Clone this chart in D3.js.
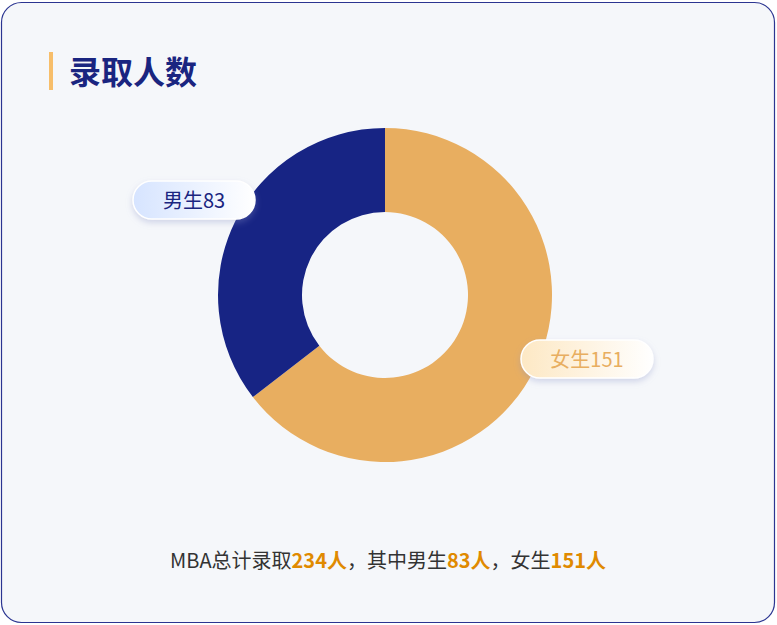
<!DOCTYPE html>
<html><head><meta charset="utf-8">
<script src="https://cdn.jsdelivr.net/npm/d3@7/dist/d3.min.js"></script>
<style>body{margin:0;background:#fff}svg{display:block}</style></head>
<body><svg id="c" width="777" height="625"></svg>
<script>
const categories=["女生","男生"];
const values=[151,83];
const colors=["#e8ae60","#172484"];
const total=234;
const svg=d3.select("#c");
const defs=svg.append("defs");
const f=defs.append("filter").attr("id","sh").attr("x","-30%").attr("y","-50%").attr("width","160%").attr("height","220%");
f.append("feDropShadow").attr("dx",0).attr("dy",3).attr("stdDeviation",3).attr("flood-color","#8a93c8").attr("flood-opacity",0.35);
const g1=defs.append("linearGradient").attr("id","gm");
g1.append("stop").attr("offset","0").attr("stop-color","#d6e4ff");
g1.append("stop").attr("offset","1").attr("stop-color","#ffffff");
const g2=defs.append("linearGradient").attr("id","gf");
g2.append("stop").attr("offset","0").attr("stop-color","#fde8c4");
g2.append("stop").attr("offset","1").attr("stop-color","#ffffff");
svg.append("rect").attr("x",1.5).attr("y",2.5).attr("width",773).attr("height",620).attr("rx",20).attr("fill","#f5f7fa").attr("stroke","#2b3591").attr("stroke-width",1.2);
svg.append("rect").attr("x",49).attr("y",52).attr("width",4).attr("height",38).attr("fill","#f7be6a");
svg.append("text").attr("x",69).attr("y",84).attr("font-family","Noto Sans CJK SC").attr("font-size",32).attr("font-weight","bold").attr("fill","#1a2580").text("录取人数");
const cx=385,cy=295;
const pie=d3.pie().sort(null).value(d=>d)(values);
const arc=d3.arc().innerRadius(83).outerRadius(167);
const g=svg.append("g").attr("transform",`translate(${cx},${cy})`);
g.selectAll("path").data(pie).join("path").attr("d",arc).attr("fill",(d,i)=>colors[i]);
const labels=[{i:1,x:133,y:181,w:122,fill:"url(#gm)",tc:"#1a2580"},{i:0,x:521,y:340,w:132,fill:"url(#gf)",tc:"#e8ae60"}];
labels.forEach(l=>{
 svg.append("rect").attr("x",l.x).attr("y",l.y).attr("width",l.w).attr("height",38).attr("rx",19).attr("fill",l.fill).attr("stroke","#fff").attr("stroke-width",1.5).attr("filter","url(#sh)");
 svg.append("text").attr("x",l.x+l.w/2).attr("y",l.y+27).attr("text-anchor","middle").attr("font-family","Noto Sans CJK SC").attr("font-size",20).attr("fill",l.tc).text(categories[l.i]+values[l.i]);
});
const t=svg.append("text").attr("x",388).attr("y",568).attr("text-anchor","middle").attr("font-family","Noto Sans CJK SC").attr("font-size",20).attr("fill","#333");
const parts=[["MBA总计录取",0],[total+"人",1],["，其中男生",0],[values[1]+"人",1],["，女生",0],[values[0]+"人",1]];
parts.forEach(p=>t.append("tspan").text(p[0]).attr("fill",p[1]?"#e08a00":"#333").attr("font-weight",p[1]?"bold":"normal"));
</script></body></html>
